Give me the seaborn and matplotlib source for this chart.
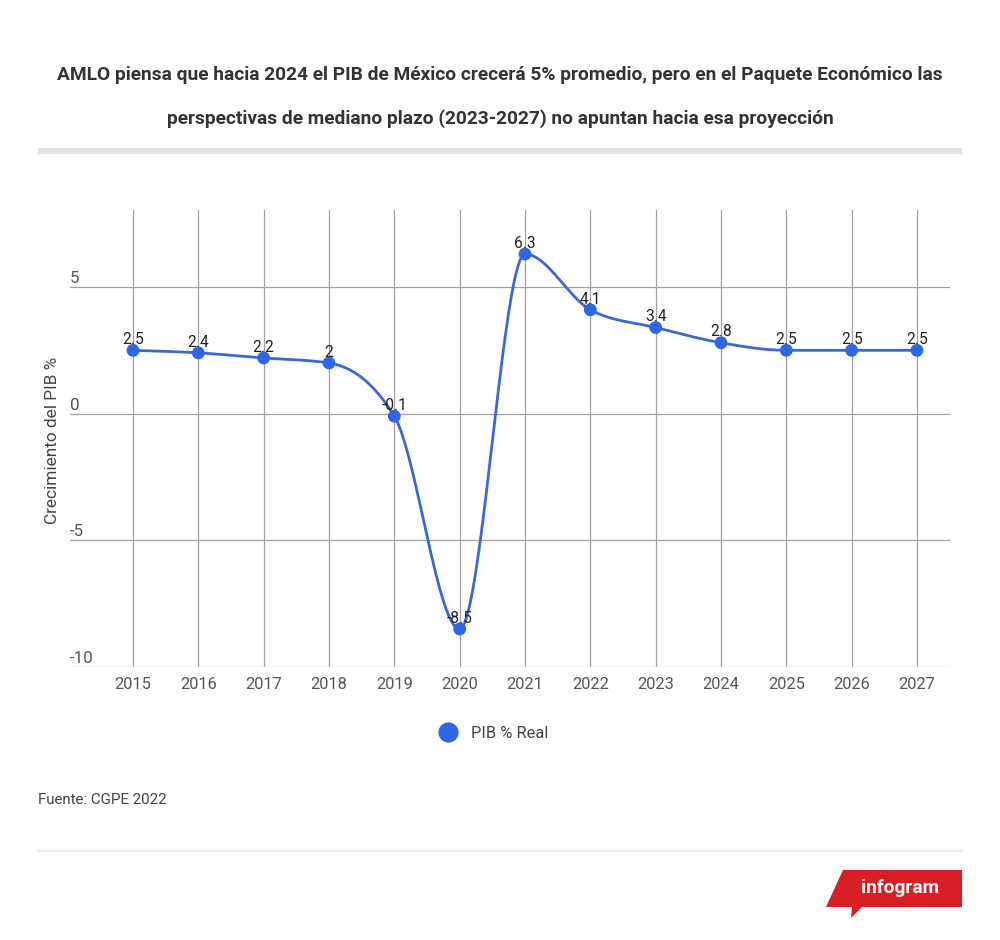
import numpy as np
import pandas as pd
import matplotlib
matplotlib.use("Agg")
import matplotlib.pyplot as plt
from matplotlib.lines import Line2D
from matplotlib.patches import Polygon, Rectangle
import seaborn as sns

# ---- data ----
years = [2015, 2016, 2017, 2018, 2019, 2020, 2021, 2022, 2023, 2024, 2025, 2026, 2027]
pib = [2.5, 2.4, 2.2, 2.0, -0.1, -8.5, 6.3, 4.1, 3.4, 2.8, 2.5, 2.5, 2.5]
value_labels = ["2.5", "2.4", "2.2", "2", "-0.1", "-8.5", "6.3", "4.1", "3.4", "2.8", "2.5", "2.5", "2.5"]
y_ticks = [5, 0, -5, -10]
series_name = "PIB % Real"
title = ("AMLO piensa que hacia 2024 el PIB de México crecerá 5% promedio, pero en el Paquete Económico las\n"
         "perspectivas de mediano plazo (2023-2027) no apuntan hacia esa proyección")
y_label = "Crecimiento del PIB %"
source = "Fuente: CGPE 2022"

BLUE = "#2e66e6"
LINE = "#3a69d4"
GRID = "#a0a0a0"
TXT = "#444444"

sns.set_theme(style="white")
plt.rcParams["font.family"] = ["Roboto", "DejaVu Sans"]

df = pd.DataFrame({"year": years, "pib": pib})


def monotone_curve(x, y, n=40):
    x = np.asarray(x, float)
    y = np.asarray(y, float)
    h = np.diff(x)
    s = np.diff(y) / h
    t = np.zeros_like(y)
    for i in range(1, len(x) - 1):
        s0, s1 = s[i - 1], s[i]
        p = (s0 * h[i] + s1 * h[i - 1]) / (h[i - 1] + h[i])
        t[i] = (np.sign(s0) + np.sign(s1)) * min(abs(s0), abs(s1), 0.5 * abs(p))
    t[0] = (3 * s[0] - t[1]) / 2
    t[-1] = (3 * s[-1] - t[-2]) / 2
    xs, ys = [], []
    for i in range(len(x) - 1):
        u = np.linspace(0, 1, n, endpoint=(i == len(x) - 2))
        h00 = 2 * u**3 - 3 * u**2 + 1
        h10 = u**3 - 2 * u**2 + u
        h01 = -2 * u**3 + 3 * u**2
        h11 = u**3 - u**2
        xs.append(x[i] + u * h[i])
        ys.append(h00 * y[i] + h10 * h[i] * t[i] + h01 * y[i + 1] + h11 * h[i] * t[i + 1])
    return np.concatenate(xs), np.concatenate(ys)


fig = plt.figure(figsize=(10, 9.4), dpi=100)
fig.patch.set_facecolor("white")

# axes: x 70..950 px, y 210..667 px
ax = fig.add_axes([0.07, 1 - 667 / 940, 0.88, (667 - 210) / 940])
ppy = (917 - 133) / 12.0
ax.set_xlim(2015 - (133 - 70) / ppy, 2027 + (950 - 917) / ppy)
ppu = (667 - 287) / 15.0
ax.set_ylim(-10, -10 + (667 - 210) / ppu)

for sp in ax.spines.values():
    sp.set_visible(False)
ax.set_xticks(years)
ax.set_xticklabels([str(y) for y in years], color="#555555", fontsize=11.8)
ax.tick_params(axis="x", length=0, pad=7.5)
ax.set_yticks([])

for yv in years:
    ax.axvline(yv, color=GRID, lw=0.9, zorder=1)
for tv in y_ticks:
    ax.axhline(tv, color=GRID, lw=0.9, zorder=1)
    ax.annotate(str(tv), (0.0, tv), xycoords=ax.get_yaxis_transform(), xytext=(0, 3),
                textcoords="offset points", ha="left", va="baseline",
                fontsize=12.2, color="#555555")

cx, cy = monotone_curve(years, pib)
sns.lineplot(x=cx, y=cy, ax=ax, color=LINE, lw=2.0, sort=False, zorder=3, legend=False)
sns.scatterplot(data=df, x="year", y="pib", ax=ax, color=BLUE, s=85, edgecolor="none",
                zorder=4, legend=False)
for xv, yv, lab in zip(years, pib, value_labels):
    ax.annotate(lab, (xv, yv), xytext=(0, 4.5), textcoords="offset points", ha="center",
                va="baseline", fontsize=11.2, color="#222222", zorder=5)

ax.set_xlabel("")
ax.set_ylabel("")
fig.text(53 / 1000, 1 - 440 / 940, y_label, rotation=90, ha="center", va="center",
         fontsize=12.4, color=TXT)

# title
fig.text(0.5, 1 - 97 / 940, title, ha="center", va="center", fontsize=13.8,
         fontweight="bold", color="#333333", linespacing=2.7)
fig.add_artist(Rectangle((38 / 1000, 1 - 154 / 940), 924 / 1000, 6 / 940,
                         transform=fig.transFigure, color="#e3e3e3", lw=0))

# legend
handle = Line2D([], [], marker="o", color="none", markerfacecolor=BLUE, markeredgecolor="none",
                markersize=14.5)
fig.legend([handle], [series_name], loc="center", bbox_to_anchor=(0.493, 1 - 733 / 940),
           frameon=False, fontsize=11.9, labelcolor=TXT, handletextpad=0.8, handlelength=1.2)

fig.text(38 / 1000, 1 - 800 / 940, source, ha="left", va="center", fontsize=10.9, color=TXT)
fig.add_artist(Line2D([38 / 1000, 962 / 1000], [1 - 851 / 940, 1 - 851 / 940],
                      transform=fig.transFigure, color="#e3e3e3", lw=1.2))

# infogram badge
W, H = 1000.0, 940.0
pts = [(843, 870), (962, 870), (962, 907), (862, 907), (851, 918), (852, 907), (826, 907)]
fig.add_artist(Polygon([(px / W, 1 - py / H) for px, py in pts], closed=True,
                       transform=fig.transFigure, color="#d91f26", lw=0))
fig.text(900 / W, 1 - 888 / H, "infogram", ha="center", va="center", fontsize=13.8,
         fontweight="bold", color="white")

fig.savefig("out.png", dpi=100, facecolor="white")
